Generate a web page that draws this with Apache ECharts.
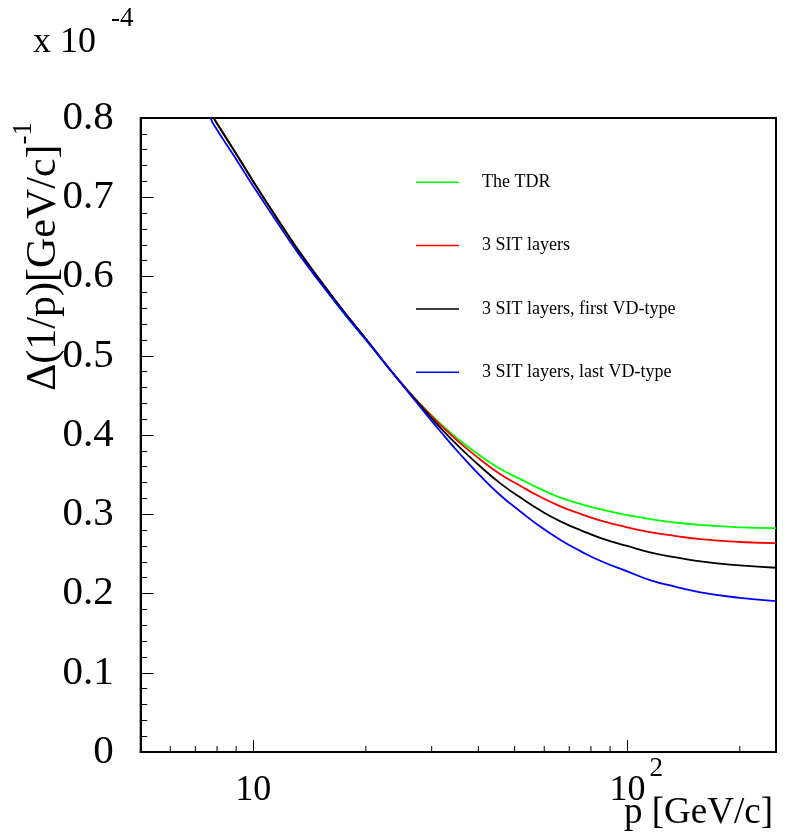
<!DOCTYPE html>
<html>
<head>
<meta charset="utf-8">
<script src="https://cdn.jsdelivr.net/npm/echarts@6/dist/echarts.min.js"></script>
<style>
  html, body { margin: 0; padding: 0; background: #fff; }
  #chart { width: 793px; height: 839px; }
</style>
</head>
<body>
<div id="chart"></div>
<script>
// momentum [GeV/c]
const pValues = [7.69, 7.83, 8.86, 10, 11.3, 13.3, 17, 20.5, 24.2, 28, 31.6, 35.7, 40, 45.7, 51.5, 58.5, 66.3, 75, 85, 100, 115, 135, 157, 200, 250];
// delta(1/p) in units of 1e-4 (GeV/c)^-1
const tdr       = [null, 0.800, 0.760, 0.720, 0.680, 0.629, 0.561, 0.514, 0.472, 0.439, 0.4145, 0.393, 0.3755, 0.3573, 0.345, 0.332, 0.321, 0.313, 0.306, 0.299, 0.294, 0.2895, 0.2865, 0.2835, 0.2825];
const sit3      = [null, 0.800, 0.760, 0.720, 0.681, 0.631, 0.563, 0.515, 0.472, 0.4385, 0.413, 0.390, 0.371, 0.3508, 0.3365, 0.322, 0.310, 0.3005, 0.292, 0.2835, 0.2775, 0.2725, 0.2685, 0.265, 0.2635];
const sit3First = [null, 0.800, 0.760, 0.720, 0.681, 0.631, 0.563, 0.515, 0.472, 0.437, 0.4095, 0.384, 0.3625, 0.3393, 0.322, 0.305, 0.291, 0.280, 0.270, 0.260, 0.252, 0.2455, 0.2405, 0.2355, 0.2325];
const sit3Last  = [0.800, 0.792, 0.753, 0.714, 0.676, 0.627, 0.561, 0.514, 0.472, 0.435, 0.405, 0.376, 0.351, 0.3243, 0.3045, 0.2845, 0.2675, 0.2535, 0.241, 0.228, 0.217, 0.2085, 0.2015, 0.1945, 0.1905];

const seriesNames = ['The TDR', '3 SIT layers', '3 SIT layers, first VD-type', '3 SIT layers, last VD-type'];
const seriesColors = ['#00ff00', '#ff0000', '#000000', '#0000ff'];
const seriesValues = [tdr, sit3, sit3First, sit3Last];

// x axis tick values
const xMinorTicks = [6, 7, 8, 9, 20, 30, 40, 50, 60, 70, 80, 90, 200];
const xLabels = { 10: '{b|10}', 100: '{sp| }{b|10}{sup|2}' };

const FONT = '"Liberation Serif", "DejaVu Serif", serif';

const chart = echarts.init(document.getElementById('chart'));

const lineSeries = seriesNames.map((name, i) => ({
    type: 'line',
    name: name,
    data: pValues.map((p, j) => [p, seriesValues[i][j]]),
    smooth: 0.5,
    showSymbol: false,
    symbol: 'none',
    color: seriesColors[i],
    lineStyle: { width: 1.8, color: seriesColors[i] },
    z: 3
}));

const tickSeries = {
    type: 'custom',
    silent: true,
    data: xMinorTicks.map(v => [v, 0]),
    renderItem: (params, api) => {
        const pt = api.coord([api.value(0), 0]);
        return {
            type: 'line',
            shape: { x1: pt[0], y1: pt[1], x2: pt[0], y2: pt[1] - 6 },
            style: { stroke: '#000', lineWidth: 1 }
        };
    },
    z: 5
};

chart.setOption({
    animation: false,
    backgroundColor: '#fff',
    textStyle: { fontFamily: FONT, color: '#000' },
    grid: {
        left: 140.7, right: 17, top: 118, bottom: 87,
        outerBoundsMode: 'none',
        containLabel: false,
        show: true, borderColor: '#000', borderWidth: 2
    },
    legend: {
        data: seriesNames,
        orient: 'vertical',
        left: 416,
        top: 172.3,
        padding: 0,
        icon: 'rect',
        itemWidth: 43,
        itemHeight: 1.5,
        itemGap: 43.3,
        selectedMode: false,
        textStyle: { fontFamily: FONT, fontSize: 18, color: '#000', lineHeight: 20, padding: [0, 0, 0, 18] }
    },
    graphic: [
        { type: 'text', left: 33, top: 25, style: { text: 'x 10', font: '36px ' + FONT, fill: '#000' } },
        { type: 'text', left: 111, top: 5, style: { text: '-4', font: '27px ' + FONT, fill: '#000' } }
    ],
    xAxis: {
        type: 'log',
        logBase: 10,
        min: 5,
        max: 250,
        name: 'p [GeV/c]',
        nameLocation: 'end',
        nameGap: -3,
        nameMoveOverlap: false,
        nameTextStyle: { fontFamily: FONT, fontSize: 37, color: '#000', align: 'right', verticalAlign: 'top', padding: [43, 0, 0, 0] },
        axisLine: { lineStyle: { color: '#000', width: 2 } },
        axisTick: { inside: true, length: 12, lineStyle: { color: '#000', width: 1 } },
        splitLine: { show: false },
        axisLabel: {
            margin: 3,
            showMinLabel: false,
            showMaxLabel: false,
            hideOverlap: false,
            formatter: v => xLabels[Math.round(v)] || '',
            rich: {
                b: { fontFamily: FONT, fontSize: 36, color: '#000', padding: [18, 0, 0, 0] },
                sup: { fontFamily: FONT, fontSize: 27, color: '#000', verticalAlign: 'top', padding: [0, 0, 0, 4] },
                sp: { fontFamily: FONT, fontSize: 27, width: 18 }
            }
        }
    },
    yAxis: {
        type: 'value',
        min: 0,
        max: 0.8,
        interval: 0.1,
        name: '{t|Δ(1/p)[GeV/c]}{s|-1}',
        nameLocation: 'end',
        nameRotate: 90,
        nameGap: -4,
        nameMoveOverlap: false,
        nameTextStyle: {
            align: 'right', verticalAlign: 'bottom', padding: [0, 0, 76, 0],
            rich: {
                t: { fontFamily: FONT, fontSize: 42, color: '#000', padding: [12, 0, 0, 0] },
                s: { fontFamily: FONT, fontSize: 27, color: '#000', verticalAlign: 'top' }
            }
        },
        axisLine: { lineStyle: { color: '#000', width: 2 } },
        axisTick: { inside: true, length: 13, lineStyle: { color: '#000', width: 1 } },
        minorTick: { show: true, splitNumber: 5, length: 6.5, lineStyle: { color: '#000', width: 1 } },
        splitLine: { show: false },
        axisLabel: { margin: 27, fontFamily: FONT, fontSize: 41, color: '#000' }
    },
    series: lineSeries.concat([tickSeries])
});
</script>
</body>
</html>
